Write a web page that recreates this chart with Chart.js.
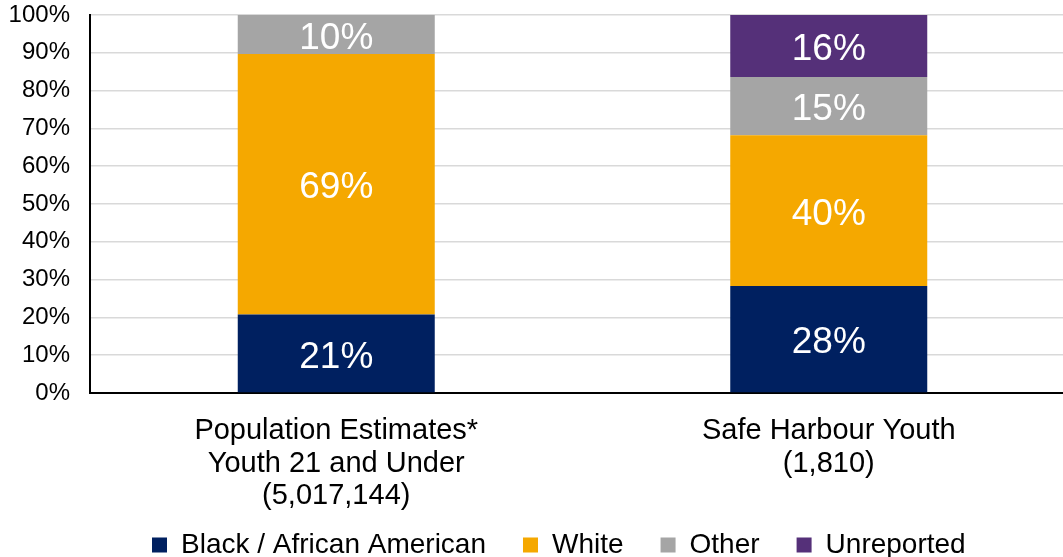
<!DOCTYPE html>
<html>
<head>
<meta charset="utf-8">
<script src="https://cdn.jsdelivr.net/npm/chart.js@4"></script>
<style>
  html, body { margin: 0; padding: 0; background: #ffffff; overflow: hidden; }
  #wrap { position: relative; width: 1075px; height: 557px; }
</style>
</head>
<body>
<div id="wrap"><canvas id="c"></canvas></div>
<script>
// ---- data ----
const categories = [
  ["Population Estimates*", "Youth 21 and Under", "(5,017,144)"],
  ["Safe Harbour Youth", "(1,810)"]
];
const seriesNames = ["Black / African American", "White", "Other", "Unreported"];
const blackValues = [20.8, 28.3];
const whiteValues = [68.9, 39.9];
const otherValues = [10.3, 15.4];
const unreportedValues = [null, 16.4];
const yTicks = [0, 10, 20, 30, 40, 50, 60, 70, 80, 90, 100];
const colors = ["#002060", "#F5A800", "#A5A5A5", "#553079"];

const FONT = "'Liberation Sans', Arial, sans-serif";

const dataLabels = {
  id: 'dataLabels',
  afterDatasetsDraw(chart) {
    const ctx = chart.ctx;
    ctx.save();
    ctx.font = "37px " + FONT;
    ctx.fillStyle = "#ffffff";
    ctx.textAlign = "center";
    ctx.textBaseline = "middle";
    chart.data.datasets.forEach((ds, i) => {
      const meta = chart.getDatasetMeta(i);
      meta.data.forEach((el, j) => {
        const v = ds.data[j];
        if (v == null) return;
        const y = (el.y + el.base) / 2;
        ctx.fillText(Math.round(v) + "%", el.x, y + 4);
      });
    });
    ctx.restore();
  }
};

const legendShift = {
  id: 'legendShift',
  afterLayout(chart) {
    const L = chart.legend;
    if (!L || !L.lineWidths) return;
    const p = L.options.labels.padding;
    const fs = L.options.labels.font.size;
    const firstX = (L.left + p + L.right - L.lineWidths[0]) / 2;
    const dx = 152 - firstX;
    const textCenter = L.top + p + fs / 2;
    const dy = 545 - textCenter;
    L.left += dx; L.right += dx;
    L.top += dy; L.bottom += dy;
  }
};

new Chart(document.getElementById('c'), {
  type: 'bar',
  data: {
    labels: categories,
    datasets: [
      { label: seriesNames[0], data: blackValues, backgroundColor: colors[0] },
      { label: seriesNames[1], data: whiteValues, backgroundColor: colors[1] },
      { label: seriesNames[2], data: otherValues, backgroundColor: colors[2] },
      { label: seriesNames[3], data: unreportedValues, backgroundColor: colors[3] }
    ]
  },
  options: {
    responsive: true,
    maintainAspectRatio: false,
    animation: false,
    layout: { padding: { left: 10, top: 15, right: 0, bottom: -40 } },
    datasets: { bar: { barPercentage: 0.4, categoryPercentage: 1.0, borderWidth: 0 } },
    plugins: {
      tooltip: { enabled: false },
      legend: {
        position: 'bottom',
        labels: {
          boxWidth: 15,
          boxHeight: 15,
          padding: 37,
          color: '#000000',
          font: { family: FONT, size: 28 }
        }
      }
    },
    scales: {
      x: {
        stacked: true,
        grid: { display: false, drawTicks: false },
        border: { display: true, color: '#000000', width: 2 },
        ticks: {
          color: '#000000',
          padding: 22,
          maxRotation: 0,
          autoSkip: false,
          font: { family: FONT, size: 29, lineHeight: 1.12 }
        },
        afterFit(scale) {
          scale.height = 129;
          scale.paddingLeft = 0;
          scale.paddingRight = 0;
        }
      },
      y: {
        stacked: true,
        min: 0,
        max: 100,
        afterBuildTicks(scale) { scale.ticks = yTicks.map(v => ({ value: v })); },
        grid: { color: '#D9D9D9', lineWidth: 1.5, drawTicks: false },
        border: { display: true, color: '#000000', width: 2 },
        ticks: {
          color: '#000000',
          padding: 20,
          font: { family: FONT, size: 24 },
          callback: (v) => v + '%'
        },
        afterFit(scale) {
          scale.width = 80;
          scale.paddingTop = 0;
          scale.paddingBottom = 0;
        }
      }
    }
  },
  plugins: [dataLabels, legendShift]
});
</script>
</body>
</html>
